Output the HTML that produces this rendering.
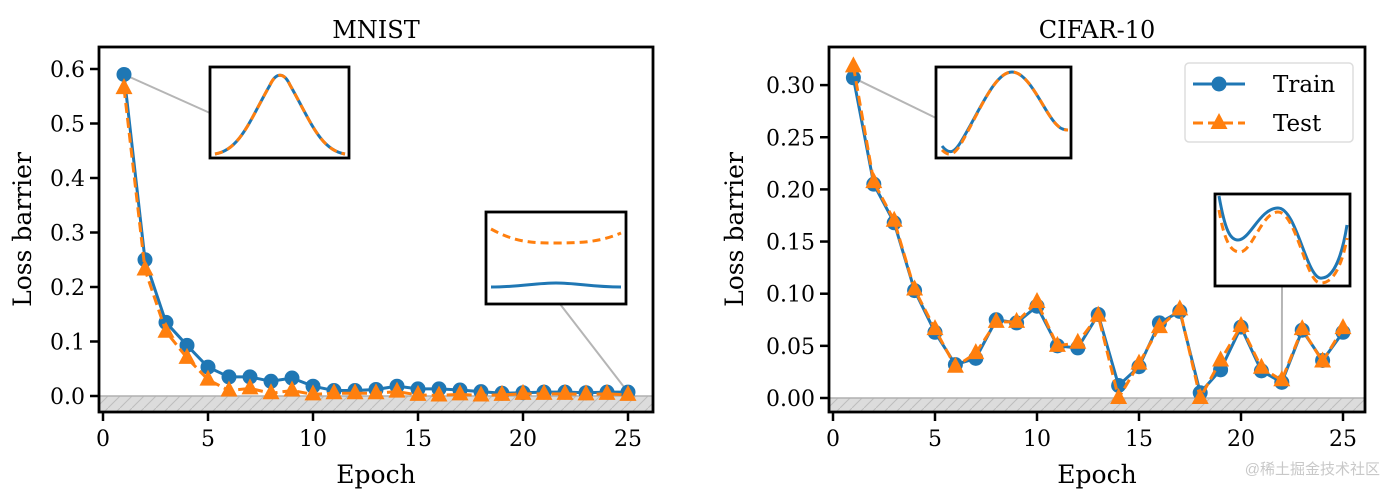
<!DOCTYPE html>
<html><head><meta charset="utf-8">
<style>
body{margin:0;background:#fff;}
svg{display:block;font-family:"DejaVu Serif","Liberation Serif",serif;}
</style></head>
<body>
<svg id="c" width="1388" height="496" viewBox="0 0 1388 496" xmlns="http://www.w3.org/2000/svg">
<defs>
<pattern id="hatch" width="12" height="12" patternUnits="userSpaceOnUse">
<rect width="12" height="12" fill="#dcdcdc"/>
<path d="M0,12 L12,0" stroke="#bdbdbd" stroke-width="1"/>
</pattern>
</defs>
</svg>
<script>
const epochs = [1,2,3,4,5,6,7,8,9,10,11,12,13,14,15,16,17,18,19,20,21,22,23,24,25];
const mnistTrain = [0.59,0.25,0.135,0.093,0.053,0.035,0.035,0.027,0.033,0.018,0.01,0.01,0.012,0.018,0.013,0.013,0.011,0.008,0.005,0.006,0.007,0.007,0.006,0.007,0.007];
const mnistTest = [0.565,0.232,0.118,0.07,0.03,0.01,0.014,0.005,0.01,0.003,0.005,0.005,0.005,0.008,0.002,0.001,0.003,0.001,0.002,0.004,0.004,0.004,0.003,0.004,0.002];
const cifarTrain = [0.307,0.205,0.168,0.103,0.063,0.032,0.038,0.075,0.072,0.088,0.05,0.048,0.08,0.012,0.03,0.072,0.083,0.005,0.027,0.068,0.026,0.015,0.065,0.036,0.063];
const cifarTest = [0.318,0.207,0.17,0.104,0.066,0.03,0.043,0.073,0.073,0.092,0.05,0.053,0.079,0.0,0.033,0.068,0.085,0.0,0.036,0.069,0.029,0.017,0.066,0.035,0.067];
const xTicks = [0,5,10,15,20,25];
const mnistYTicks = [0,0.1,0.2,0.3,0.4,0.5,0.6];
const mnistYLabels = ["0.0","0.1","0.2","0.3","0.4","0.5","0.6"];
const cifarYTicks = [0,0.05,0.1,0.15,0.2,0.25,0.3];
const cifarYLabels = ["0.00","0.05","0.10","0.15","0.20","0.25","0.30"];

const NS="http://www.w3.org/2000/svg";
const svg=document.getElementById('c');
function mk(tag,attrs,parent){const e=document.createElementNS(NS,tag);for(const k in attrs)e.setAttribute(k,attrs[k]);(parent||svg).appendChild(e);return e;}
const BLUE="#1f77b4",ORANGE="#ff7f0e";

function panel(cfg){
  const g=mk('g',{});
  
  
  const sx=v=>cfg.x0+(v-0)*cfg.xs;
  const sy=v=>cfg.y0-v*cfg.ys;
  const h=mk('rect',{x:cfg.L,y:sy(0),width:cfg.R-cfg.L,height:cfg.B-sy(0),fill:'url(#hatch)'},g);
  
  
  mk('line',{x1:cfg.L,x2:cfg.R,y1:sy(0),y2:sy(0),stroke:'#b0b0b0','stroke-width':1.5},g);
  xTicks.forEach(t=>{
    mk('line',{x1:sx(t),x2:sx(t),y1:cfg.B,y2:cfg.B+9,stroke:'#000','stroke-width':2.5},g);
    const tx=mk('text',{x:sx(t),y:cfg.B+34,'font-size':22,'text-anchor':'middle'},g);
    tx.textContent=t;
    
    
  });
  cfg.yt.forEach((t,i)=>{
    mk('line',{x1:cfg.L-9,x2:cfg.L,y1:sy(t),y2:sy(t),stroke:'#000','stroke-width':2.5},g);
    const tx=mk('text',{x:cfg.L-14,y:sy(t)+8,'font-size':22,'text-anchor':'end'},g);
    tx.textContent=cfg.yl[i];
    
    
  });
  cfg.conn.forEach(c=>{
    const l=mk('line',{x1:sx(c.e),y1:sy(c.v),x2:c.x,y2:c.y,stroke:'#b5b5b5','stroke-width':2},g);
    
    
  });
  const tp=epochs.map((e,i)=>sx(e)+','+sy(cfg.test[i])).join(' ');
  const trp=epochs.map((e,i)=>sx(e)+','+sy(cfg.train[i])).join(' ');
  const l1=mk('polyline',{points:trp,fill:'none',stroke:BLUE,'stroke-width':3},g);
  
  
  epochs.forEach((e,i)=>{
    const c=mk('circle',{cx:sx(e),cy:sy(cfg.train[i]),r:7.5,fill:BLUE},g);
    
    
  });
  const l2=mk('polyline',{points:tp,fill:'none',stroke:ORANGE,'stroke-width':3,'stroke-dasharray':'10,5'},g);
  
  
  epochs.forEach((e,i)=>{
    const x=sx(e),y=sy(cfg.test[i]);
    const p=mk('polygon',{points:`${x},${y-10} ${x-8.5},${y+6} ${x+8.5},${y+6}`,fill:ORANGE},g);
    
    
  });
  mk('rect',{x:cfg.L,y:cfg.T,width:cfg.R-cfg.L,height:cfg.B-cfg.T,fill:'none',stroke:'#000','stroke-width':2.8},g);
  const ti=mk('text',{x:(cfg.L+cfg.R)/2,y:cfg.T-9,'font-size':24,'text-anchor':'middle'},g);
  ti.textContent=cfg.title;
  
  
  const xl=mk('text',{x:(cfg.L+cfg.R)/2,y:483,'font-size':25,'text-anchor':'middle'},g);
  xl.textContent='Epoch';
  
  
  const yl=mk('text',{x:0,y:0,'font-size':25,'text-anchor':'middle',transform:`translate(${cfg.yLabX},${(cfg.T+cfg.B)/2}) rotate(-90)`},g);
  yl.textContent='Loss barrier';
  
  
  cfg.insets.forEach(ins=>{
    const ig=mk('g',{},g);
    
    
    mk('rect',{x:ins.x,y:ins.y,width:ins.w,height:ins.h,fill:'#fff',stroke:'#000','stroke-width':2.8},ig);
    mk('path',{d:ins.train,fill:'none',stroke:BLUE,'stroke-width':3},ig);
    mk('path',{d:ins.test,fill:'none',stroke:ORANGE,'stroke-width':3,'stroke-dasharray':'8,5'},ig);
  });
  return g;
}

panel({name:'mnist-panel',title:'MNIST',L:99,R:653,T:47,B:412,x0:103,xs:21,y0:396,ys:545,
  yt:mnistYTicks,yl:mnistYLabels,train:mnistTrain,test:mnistTest,yLabX:31,
  conn:[{e:1,v:0.59,x:210,y:113},{e:25,v:0.007,x:560,y:304}],
  insets:[
   {x:210,y:67,w:139,h:91,train:'M215,154 C240,150 250,120 270,85 C276,72 284,72 290,85 C310,120 320,150 345,154',test:'M215,154 C240,150 250,120 270,85 C276,72 284,72 290,85 C310,120 320,150 345,154'},
   {x:486,y:212,w:140,h:92,train:'M491,287 C520,287 535,283 556,283 C577,283 592,287 621,287',test:'M491,229 C515,242 530,243 556,243 C582,243 600,242 621,233'}
  ]});
panel({name:'cifar10-panel',title:'CIFAR-10',L:829,R:1365,T:47,B:412,x0:833,xs:20.4,y0:398,ys:1043,
  yt:cifarYTicks,yl:cifarYLabels,train:cifarTrain,test:cifarTest,yLabX:743,
  conn:[{e:1,v:0.307,x:936,y:118},{e:22,v:0.015,x:1282,y:286}],
  insets:[
   {x:936,y:67,w:135,h:91,train:'M942,146 C950,156 955,152 962,140 C980,110 995,72 1012,72 C1030,72 1045,115 1058,126 C1062,130 1066,130 1068,130',test:'M942,150 C950,158 955,154 962,142 C980,110 995,72 1012,72 C1030,72 1045,115 1058,126 C1062,130 1066,130 1068,130'},
   {x:1215,y:194,w:135,h:92,train:'M1219,196 C1225,230 1230,240 1238,240 C1250,240 1260,208 1278,208 C1296,208 1306,275 1320,278 C1335,280 1343,250 1347,225',test:'M1219,210 C1225,245 1232,252 1240,252 C1252,252 1262,212 1278,212 C1296,212 1306,282 1320,283 C1335,284 1343,260 1347,238'}
  ]});

const lg=mk('g',{});


mk('rect',{x:1185,y:63,width:168,height:79,rx:4,fill:'#fff',stroke:'#ddd','stroke-width':1.5},lg);
mk('line',{x1:1193,x2:1245,y1:84,y2:84,stroke:BLUE,'stroke-width':3},lg);
mk('circle',{cx:1219,cy:84,r:7.5,fill:BLUE},lg);
mk('line',{x1:1193,x2:1245,y1:123,y2:123,stroke:ORANGE,'stroke-width':3,'stroke-dasharray':'10,5'},lg);
mk('polygon',{points:'1219,113 1210.5,129 1227.5,129',fill:ORANGE},lg);
const t1=mk('text',{x:1273,y:92,'font-size':23},lg);t1.textContent='Train';


const t2=mk('text',{x:1273,y:131,'font-size':23},lg);t2.textContent='Test';


const wm=mk('text',{x:1380,y:474,'font-size':15,'text-anchor':'end',fill:'#c8c8c8','font-family':'"Liberation Sans","Noto Sans CJK SC",sans-serif'});
wm.textContent='@稀土掘金技术社区';


</script>
</body></html>
